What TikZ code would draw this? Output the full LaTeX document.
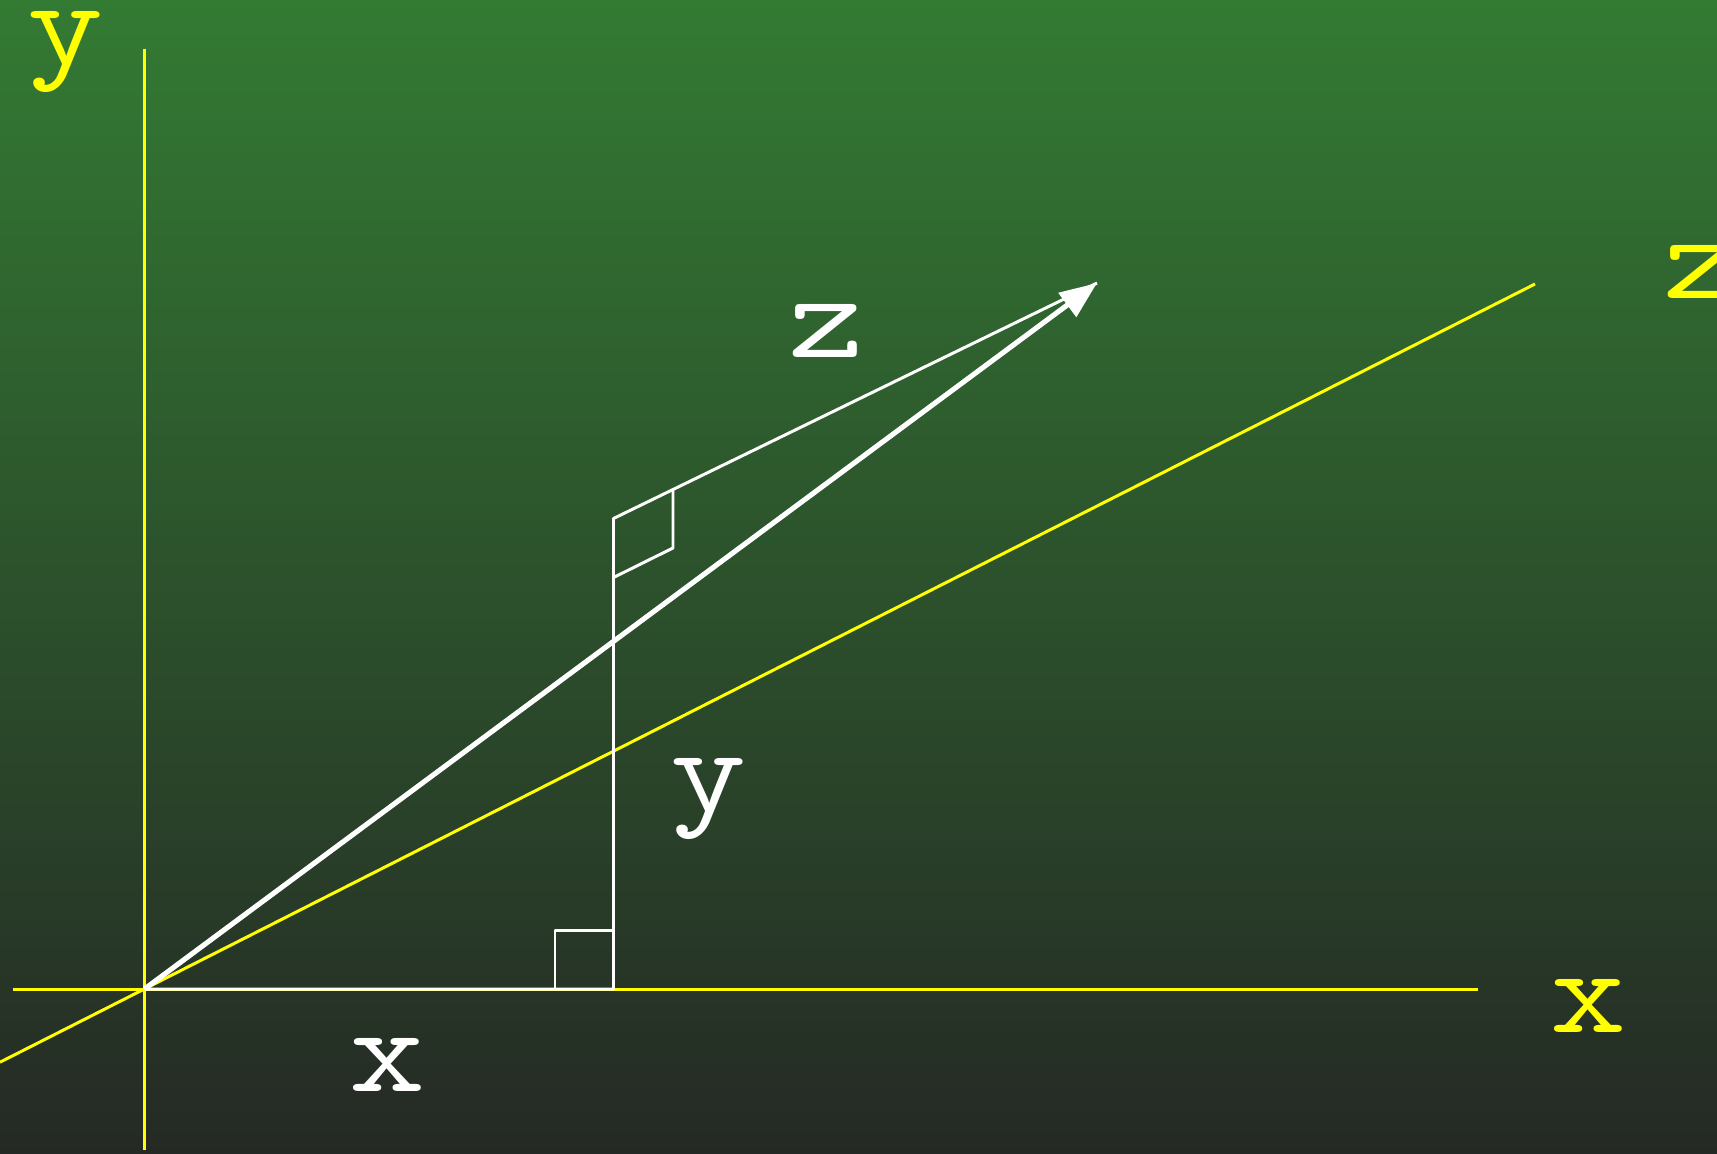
\documentclass[tikz,border=0pt]{standalone}
\usepackage{fontspec}
\newfontfamily\labfont[FakeStretch=1.2]{Latin Modern Mono}
\usetikzlibrary{arrows.meta}
\definecolor{bgtop}{RGB}{51,122,51}
\definecolor{bgbot}{RGB}{37,41,37}
\definecolor{axisyellow}{RGB}{255,255,0}
\tikzset{
  axisline/.style={draw=axisyellow, line width=0.85pt},
  thinwhite/.style={draw=white, line width=0.85pt, line join=round},
  thickwhite/.style={draw=white, line width=1.45pt, -{Triangle[length=0.37cm,width=0.29cm]}},
  ylab/.style={text=axisyellow, font=\labfont\fontsize{35}{40}\selectfont, anchor=base, inner sep=0pt},
  wlab/.style={text=white, font=\labfont\fontsize{35}{40}\selectfont, anchor=base, inner sep=0pt}
}
\begin{document}
\begin{tikzpicture}[x=0.01cm, y=-0.01cm]
\useasboundingbox (0,0) rectangle (1717,1154);
\shade[top color=bgtop, bottom color=bgbot] (0,0) rectangle (1717,1154);
% coordinates
\coordinate (O) at (144.5,989);
\coordinate (Ytop) at (144.5,48.5);
\coordinate (Ybot) at (144.5,1150);
\coordinate (Xl) at (13,989);
\coordinate (Xr) at (1477.5,989);
\coordinate (Zl) at (0,1062.2);
\coordinate (Zr) at (1535,284);
\coordinate (F) at (613.5,989);
\coordinate (P) at (613.5,518.5);
\coordinate (T) at (1097,283);
\coordinate (B1) at (555,989);
\coordinate (B2) at (555,930);
\coordinate (B3) at (613.5,930);
\coordinate (C1) at (673,489.5);
\coordinate (C2) at (673,548);
\coordinate (C3) at (613.5,577.5);
% yellow axes
\draw[axisline] (Ytop) -- (Ybot);
\draw[axisline] (Xl) -- (Xr);
\draw[axisline] (Zl) -- (Zr);
% white construction
\draw[thinwhite] (O) -- (F) -- (P) -- (T);
\draw[thinwhite] (B1) -- (B2) -- (B3);
\draw[thinwhite] (C1) -- (C2) -- (C3);
\draw[thickwhite] (O) -- (T);
% labels
\node[ylab] (ly) at (65.7,64) {y};
\node[ylab] (lz) at (1702,298) {z};
\node[ylab] (lx) at (1589,1032.6) {x};
\node[wlab] (wx) at (387.6,1091.7) {x};
\node[wlab] (wz) at (826.7,357) {z};
\node[wlab] (wy) at (709,811.4) {y};
\end{tikzpicture}
\end{document}
